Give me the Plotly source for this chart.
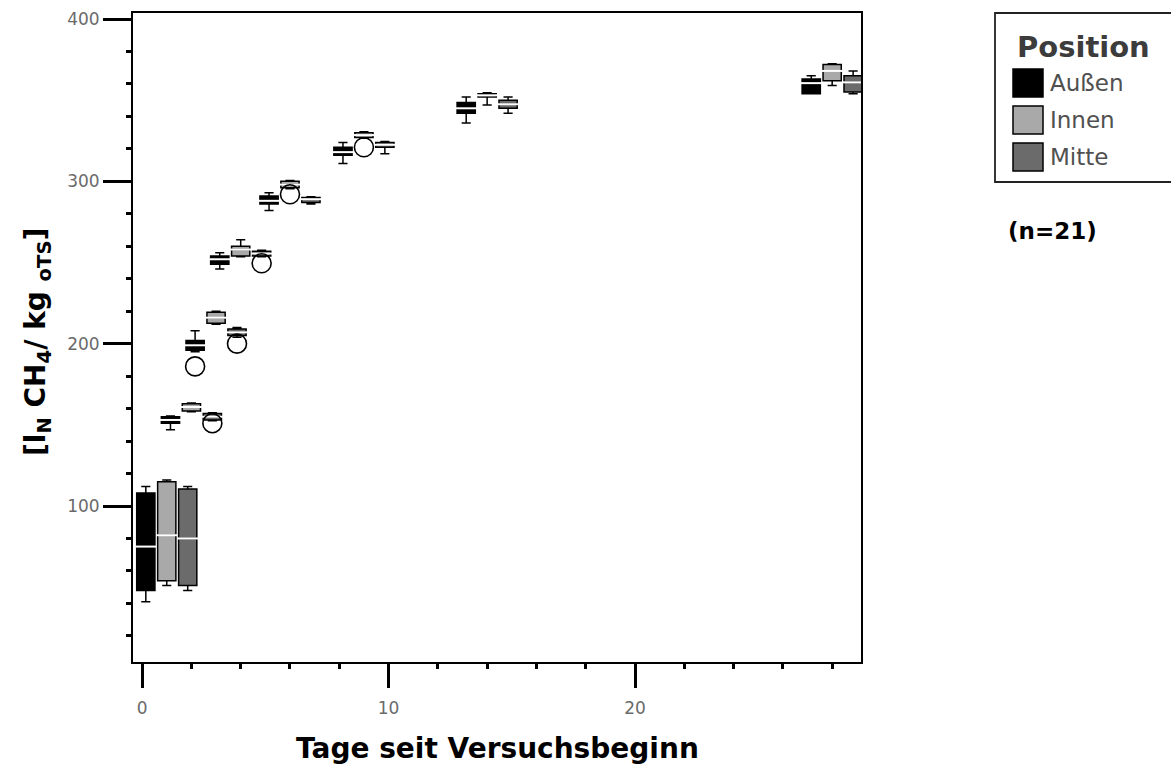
import plotly.graph_objects as go

# ---------------- data ----------------
DAYS = [1, 2, 3, 4, 6, 9, 14, 28]
SERIES = ["Außen", "Innen", "Mitte"]

AUSSEN_LOW = [41, 147, 195, 246, 282, 311, 336, 354]
AUSSEN_Q1 = [48, 151, 196, 249, 286, 316, 342, 354]
AUSSEN_MED = [75, 153, 199, 252, 288, 318, 345, 360.5]
AUSSEN_Q3 = [108, 155, 202, 254, 291, 321, 348.5, 363]
AUSSEN_HIGH = [112, 155.5, 208, 256, 293, 324, 352, 365]

INNEN_LOW = [51, 158, 212, 253.5, 295.5, 326.5, 347, 359]
INNEN_Q1 = [54, 158.5, 212.6, 254, 296, 327, 352, 362]
INNEN_MED = [82, 161, 216, 258, 298, 328.5, 353, 368]
INNEN_Q3 = [115, 163, 219.4, 260, 300, 330, 354, 372]
INNEN_HIGH = [116, 163.5, 220, 264, 300.5, 330.5, 354.5, 372.5]

MITTE_LOW = [48, 152.5, 204, 253.5, 286, 317, 342, 354]
MITTE_Q1 = [51, 153, 205, 254, 287, 321, 345, 355]
MITTE_MED = [80, 155, 207, 255.5, 289, 322.5, 347.5, 361]
MITTE_Q3 = [110.5, 157, 209, 257, 290, 324, 350, 365]
MITTE_HIGH = [112, 157.5, 210, 257.5, 290.5, 324.5, 352, 368]

AUSSEN_OUT_DAYS = [3]
AUSSEN_OUT = [186]
INNEN_OUT_DAYS = [6, 9]
INNEN_OUT = [292, 321]
MITTE_OUT_DAYS = [2, 3, 4]
MITTE_OUT = [151, 200, 249.5]

X_TICKS = [0, 10, 20]
Y_TICKS = [100, 200, 300, 400]

# ---------------- styles ----------------
FILLS = ["#000000", "#a9a9a9", "#6b6b6b"]
GROUP_OFFSET = [-0.85, 0.0, 0.85]
BOX_WIDTH = 0.74

stats = [
    (AUSSEN_LOW, AUSSEN_Q1, AUSSEN_MED, AUSSEN_Q3, AUSSEN_HIGH, AUSSEN_OUT_DAYS, AUSSEN_OUT),
    (INNEN_LOW, INNEN_Q1, INNEN_MED, INNEN_Q3, INNEN_HIGH, INNEN_OUT_DAYS, INNEN_OUT),
    (MITTE_LOW, MITTE_Q1, MITTE_MED, MITTE_Q3, MITTE_HIGH, MITTE_OUT_DAYS, MITTE_OUT),
]

fig = go.Figure()
for i, name in enumerate(SERIES):
    low, q1, med, q3, high, od, ov = stats[i]
    xs = [d + GROUP_OFFSET[i] for d in DAYS]
    fig.add_trace(go.Box(
        x=xs, q1=q1, median=med, q3=q3, lowerfence=low, upperfence=high,
        orientation="v", name=name, width=BOX_WIDTH, whiskerwidth=0.5,
        fillcolor=FILLS[i], line=dict(color="black", width=1.5),
        boxpoints=False, showlegend=False,
    ))
for i, name in enumerate(SERIES):
    low, q1, med, q3, high, od, ov = stats[i]
    xs = [d + GROUP_OFFSET[i] for d in DAYS]
    fig.add_trace(go.Scatter(
        x=xs, y=med, mode="markers", showlegend=False, hoverinfo="skip",
        marker=dict(symbol="line-ew", size=15, line=dict(color="white", width=2)),
    ))
    fig.add_trace(go.Scatter(
        x=[d + GROUP_OFFSET[i] for d in od], y=ov, mode="markers", showlegend=False,
        marker=dict(symbol="circle-open", size=19, color="black", line=dict(width=1.6)),
    ))

# plot-area pixel frame
L, R, T, B = 133, 861, 13, 662
W, H = 1171, 765

def px(x):
    return (x - L) / (R - L)

def py(y):
    return (B - y) / (B - T)

tickfont = dict(family="DejaVu Sans", size=17, color="#6a6a6a")
fig.update_xaxes(
    range=[-0.37, 29.17], tickvals=X_TICKS, ticks="outside", ticklen=24, tickwidth=3,
    tickcolor="black", showline=True, linewidth=2, linecolor="black", mirror=True,
    showgrid=False, zeroline=False, tickfont=tickfont, automargin=False, ticklabelstandoff=6,
    minor=dict(dtick=2, tick0=0, ticks="outside", ticklen=5, tickwidth=3, tickcolor="black", showgrid=False),
)
fig.update_yaxes(
    range=[3.9, 403.7], tickvals=Y_TICKS, ticks="outside", ticklen=28, tickwidth=3,
    tickcolor="black", showline=True, linewidth=2, linecolor="black", mirror=True,
    showgrid=False, zeroline=False, tickfont=tickfont, automargin=False,
    minor=dict(dtick=20, tick0=0, ticks="outside", ticklen=5, tickwidth=3, tickcolor="black", showgrid=False),
)

shapes = [dict(type="rect", xref="paper", yref="paper", x0=px(995), x1=px(1185),
               y0=py(182), y1=py(13), line=dict(color="#222222", width=1.8), fillcolor="rgba(0,0,0,0)")]
annotations = [
    dict(text="<b>Position</b>", x=px(1015), y=py(47), xanchor="left", yanchor="middle",
         font=dict(family="DejaVu Sans", size=29, color="#3c3c3c")),
    dict(text="<b>(n=21)</b>", x=px(1006), y=py(231), xanchor="left", yanchor="middle",
         font=dict(family="DejaVu Sans", size=23, color="black")),
    dict(text="<b>Tage seit Versuchsbeginn</b>", x=px(497), y=py(748), xanchor="center", yanchor="middle",
         font=dict(family="DejaVu Sans", size=28, color="black")),
    dict(text="<b>[l<sub>N</sub> CH<sub>4</sub>/ kg <sub>oTS</sub>]</b>", x=px(38), y=py(342),
         xanchor="center", yanchor="middle", textangle=-90,
         font=dict(family="DejaVu Sans", size=28, color="black")),
]
item_top = [69, 106, 143]
for i, name in enumerate(SERIES):
    shapes.append(dict(type="rect", xref="paper", yref="paper", x0=px(1013), x1=px(1043),
                       y0=py(item_top[i] + 28), y1=py(item_top[i]),
                       line=dict(color="black", width=1.5), fillcolor=FILLS[i]))
    annotations.append(dict(text=name, x=px(1048), y=py(item_top[i] + 14), xanchor="left", yanchor="middle",
                            font=dict(family="DejaVu Sans", size=23, color="#505050")))
for a in annotations:
    a.update(xref="paper", yref="paper", showarrow=False)

fig.update_layout(
    width=W, height=H, margin=dict(l=L, r=W - R, t=T, b=H - B, pad=0),
    paper_bgcolor="white", plot_bgcolor="white", boxmode="overlay",
    shapes=shapes, annotations=annotations, showlegend=False,
)

fig.write_html("out.html", config={"displayModeBar": False},
               post_script="document.body.style.margin='0';document.body.style.overflow='hidden';")
